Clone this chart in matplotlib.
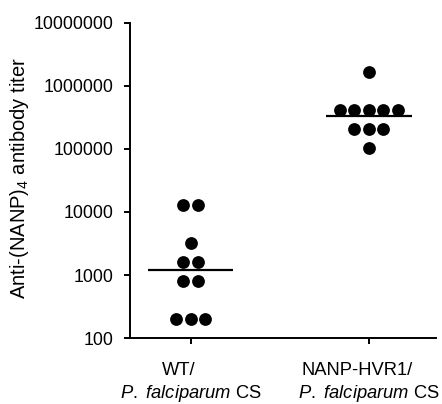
import numpy as np
import matplotlib
matplotlib.use('Agg')
import matplotlib.pyplot as plt
from matplotlib.ticker import FixedLocator, FixedFormatter

# Data
groups_top = ['WT/', 'NANP-HVR1/']
groups_bottom = ['$\\it{P.}$ $\\it{falciparum}$ CS', '$\\it{P.}$ $\\it{falciparum}$ CS']
wt_titer = [12800, 12800, 3200, 1600, 1600, 800, 800, 200, 200, 200]
nanp_titer = [1638400, 409600, 409600, 409600, 409600, 409600,
              204800, 204800, 204800, 102400]
y_ticks = [100, 1000, 10000, 100000, 1000000, 10000000]

plt.rcParams['font.family'] = ['Liberation Sans', 'DejaVu Sans']
plt.rcParams['mathtext.fontset'] = 'custom'
plt.rcParams['mathtext.it'] = 'Liberation Sans:italic'
plt.rcParams['mathtext.rm'] = 'Liberation Sans'


def swarm_offsets(values, step):
    # spread equal values side by side, like a column scatter
    values = np.asarray(values)
    offs = np.zeros(len(values))
    for v in np.unique(values):
        idx = np.where(values == v)[0]
        k = len(idx)
        offs[idx] = (np.arange(k) - (k - 1) / 2.0) * step
    return offs


fig = plt.figure(figsize=(4.42, 4.04), dpi=100)
ax = fig.add_axes([0.293, 0.163, 0.693, 0.781])

step = 0.082
for i, vals in enumerate([wt_titer, nanp_titer]):
    x = i + swarm_offsets(vals, step)
    ax.plot(x, vals, 'o', color='black', markersize=9.2, markeredgewidth=0)
    # line at the geometric mean
    gm = 10 ** np.mean(np.log10(vals))
    ax.plot([i - 0.24, i + 0.24], [gm, gm], color='black', lw=1.6,
            solid_capstyle='butt')

ax.set_yscale('log')
ax.set_ylim(100, 10000000)
ax.set_xlim(-0.343, 1.376)
ax.yaxis.set_major_locator(FixedLocator(y_ticks))
ax.yaxis.set_major_formatter(FixedFormatter([str(t) for t in y_ticks]))
ax.yaxis.set_minor_locator(FixedLocator([]))
ax.set_xticks([0, 1])
ax.set_xticklabels([])

# two-line group labels; first line sits a little left of the tick
for i in range(len(groups_top)):
    ax.annotate(groups_top[i], xy=(i, 0), xycoords=('data', 'axes fraction'),
                xytext=(-12, -24), textcoords='offset pixels',
                ha='center', va='top', fontsize=13.2)
    ax.annotate(groups_bottom[i], xy=(i, 0), xycoords=('data', 'axes fraction'),
                xytext=(0, -45), textcoords='offset pixels',
                ha='center', va='top', fontsize=13.2)

for s in ['top', 'right']:
    ax.spines[s].set_visible(False)
for s in ['left', 'bottom']:
    ax.spines[s].set_linewidth(1.4)
ax.tick_params(width=1.4, length=4.5, labelsize=12.8)
ax.tick_params(axis='y', pad=7)

ax.set_ylabel('Anti-(NANP)$_4$ antibody titer', fontsize=14.5)
ax.yaxis.set_label_coords(-0.321, 0.508)

fig.savefig('out.png', dpi=100)
